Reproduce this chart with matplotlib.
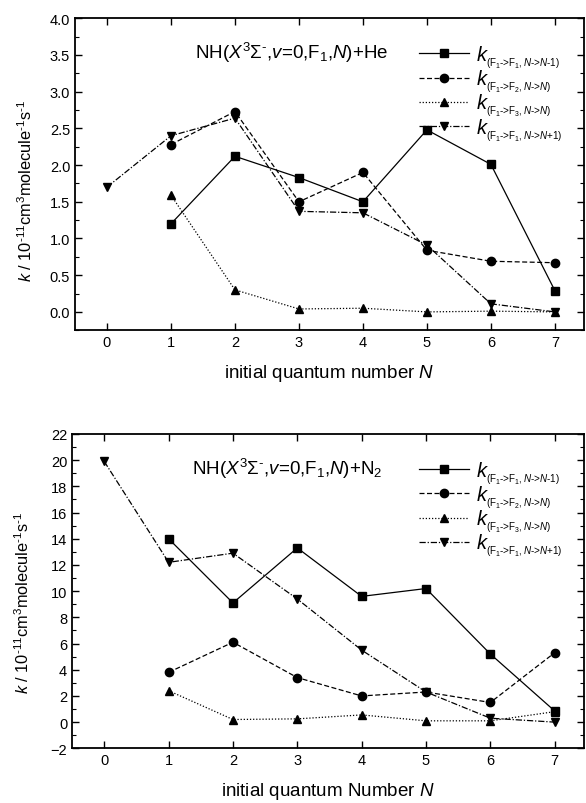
import numpy as np
import matplotlib
matplotlib.use('Agg')
import matplotlib.pyplot as plt
from matplotlib.ticker import MultipleLocator

plt.rcParams['font.family'] = ['Liberation Sans', 'DejaVu Sans']
plt.rcParams['mathtext.fontset'] = 'custom'
plt.rcParams['mathtext.rm'] = 'Liberation Sans'
plt.rcParams['mathtext.it'] = 'Liberation Sans:italic'
plt.rcParams['mathtext.bf'] = 'Liberation Sans:bold'

# He data
N_he_a = [1, 2, 3, 4, 5, 6, 7]
he_nm1 = [1.20, 2.12, 1.83, 1.50, 2.48, 2.01, 0.29]
he_f2 = [2.28, 2.73, 1.50, 1.90, 0.84, 0.69, 0.67]
he_f3 = [1.59, 0.30, 0.04, 0.05, 0.0, 0.01, 0.0]
N_he_b = [0, 1, 2, 3, 4, 5, 6, 7]
he_np1 = [1.70, 2.40, 2.64, 1.37, 1.35, 0.91, 0.11, 0.0]

# N2 data
N_n2_a = [1, 2, 3, 4, 5, 6, 7]
n2_nm1 = [14.0, 9.1, 13.3, 9.6, 10.2, 5.2, 0.85]
n2_f2 = [3.8, 6.1, 3.4, 2.0, 2.3, 1.5, 5.3]
n2_f3 = [2.4, 0.2, 0.25, 0.55, 0.1, 0.1, 0.8]
N_n2_b = [0, 1, 2, 3, 4, 5, 6, 7]
n2_np1 = [19.9, 12.2, 12.9, 9.4, 5.5, 2.3, 0.3, 0.0]

# nested subscript keeps the index text small, like the original
labels = [r'$k_{{}_{(\mathrm{F_1\text{->}F_1},N\text{->}N\text{-}1)}}$',
          r'$k_{{}_{(\mathrm{F_1\text{->}F_2},N\text{->}N)}}$',
          r'$k_{{}_{(\mathrm{F_1\text{->}F_3},N\text{->}N)}}$',
          r'$k_{{}_{(\mathrm{F_1\text{->}F_1},N\text{->}N\text{+}1)}}$']
styles = [('s', '-'), ('o', (0, (4, 2))), ('^', (0, (1, 1.5))), ('v', (0, (5, 1.5, 1, 1.5)))]

ylab = r'$k$ / 10$^{\text{-}11}$cm$^3$molecule$^{\text{-}1}$s$^{\text{-}1}$'

fig = plt.figure(figsize=(5.86, 8.04), dpi=100)
ax1 = fig.add_axes([0.128, 0.588, 0.868, 0.388])
ax2 = fig.add_axes([0.123, 0.068, 0.873, 0.391])


def draw(ax, xs, ys, ylim, major, minor, title, xlabel, ylab_y):
    for (x, y), (m, ls), lab in zip(zip(xs, ys), styles, labels):
        ax.plot(x, y, marker=m, linestyle=ls, color='black', lw=0.9,
                ms=6, label=lab)
    ax.set_xlim(-0.5, 7.45)
    ax.set_ylim(*ylim)
    ax.xaxis.set_major_locator(MultipleLocator(1))
    ax.yaxis.set_major_locator(MultipleLocator(major))
    ax.yaxis.set_minor_locator(MultipleLocator(minor))
    ax.tick_params(which='both', direction='in', top=True, right=True,
                   labelsize=10.5)
    ax.tick_params(which='major', length=5, width=1)
    ax.tick_params(which='minor', length=3, width=0.8)
    for s in ax.spines.values():
        s.set_linewidth(1.3)
    ax.set_xlabel(xlabel, fontsize=13.5, labelpad=9)
    ax.set_ylabel(ylab, fontsize=11.8)
    ax.yaxis.set_label_coords(-0.078, ylab_y)
    ax.text(0.235, 0.93, title, transform=ax.transAxes, fontsize=13.5, va='top')
    ax.legend(loc='upper right', bbox_to_anchor=(0.987, 0.965), frameon=False,
              fontsize=14.5, handlelength=2.5, labelspacing=-0.12,
              handletextpad=0.35, borderpad=0.2)


draw(ax1, [N_he_a, N_he_a, N_he_a, N_he_b], [he_nm1, he_f2, he_f3, he_np1],
     (-0.25, 4.0), 0.5, 0.25,
     r'NH($X^3\mathrm{\Sigma}^{\text{-}}$,$v$=0,F$_1$,$N$)+He',
     r'initial quantum number $N$', 0.45)
ax1.yaxis.set_major_formatter(plt.FormatStrFormatter('%.1f'))
draw(ax2, [N_n2_a, N_n2_a, N_n2_a, N_n2_b], [n2_nm1, n2_f2, n2_f3, n2_np1],
     (-2, 22), 2, 1,
     r'NH($X^3\mathrm{\Sigma}^{\text{-}}$,$v$=0,F$_1$,$N$)+N$_2$',
     r'initial quantum Number $N$', 0.465)

fig.savefig('out.png', dpi=100)
